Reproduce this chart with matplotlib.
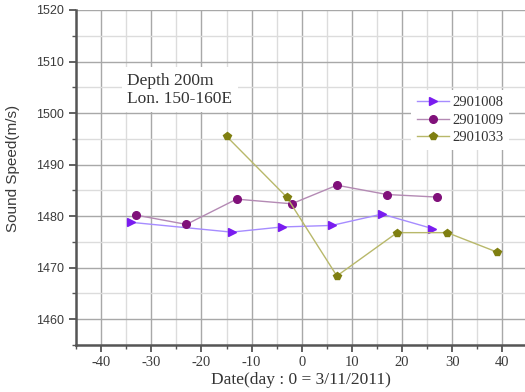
import matplotlib
matplotlib.use("Agg")
import matplotlib.pyplot as plt
from matplotlib.ticker import MultipleLocator

plt.rcParams["axes.unicode_minus"] = False

days_2901008 = [-34, -14, -4, 6, 16, 26]
speed_2901008 = [1478.8, 1476.9, 1477.9, 1478.2, 1480.4, 1477.6]

days_2901009 = [-33, -23, -13, -2, 7, 17, 27]
speed_2901009 = [1480.2, 1478.4, 1483.3, 1482.4, 1486.0, 1484.2, 1483.7]

days_2901033 = [-15, -3, 7, 19, 29, 39]
speed_2901033 = [1495.5, 1483.7, 1468.4, 1476.8, 1476.8, 1473.0]

serif = ["Liberation Serif", "DejaVu Serif"]
sans = ["Liberation Sans", "DejaVu Sans"]

fig = plt.figure(figsize=(5.25, 3.92), dpi=100)
ax = fig.add_axes([76/525, 1-345/392, 1-76/525, (345-10)/392])

ax.plot(days_2901008, speed_2901008, color="#a68cff", lw=1.0, marker=">",
        ms=6, mfc="#7a1cf0", mec="#7a1cf0", label="2901008", zorder=3)
ax.plot(days_2901009, speed_2901009, color="#b48ab4", lw=1.0, marker="o",
        ms=5.5, mfc="#80107a", mec="#80107a", label="2901009", zorder=3)
ax.plot(days_2901033, speed_2901033, color="#b8b86a", lw=1.0, marker="p",
        ms=6, mfc="#7f7f10", mec="#7f7f10", label="2901033", zorder=3)

ax.set_xlim(-45, 44.5)
ax.set_ylim(1455, 1520)
ax.xaxis.set_major_locator(MultipleLocator(10))
ax.xaxis.set_minor_locator(MultipleLocator(5))
ax.yaxis.set_major_locator(MultipleLocator(10))
ax.yaxis.set_minor_locator(MultipleLocator(5))

ax.grid(which="major", color="#a8a8a8", lw=1.0, zorder=0)
ax.grid(which="minor", color="#dcdcdc", lw=1.0, zorder=0)
ax.set_axisbelow(True)

for s in ["top", "right"]:
    ax.spines[s].set_visible(False)
for s in ["left", "bottom"]:
    ax.spines[s].set_color("#555555")
    ax.spines[s].set_linewidth(1.8)

ax.tick_params(which="major", direction="out", length=5, width=1.3, color="#555555",
               labelcolor="#3a3a3a")
ax.tick_params(which="minor", direction="out", length=3, width=1.0, color="#555555")
ax.tick_params(axis="x", which="major", pad=3)
for lab in ax.get_yticklabels():
    lab.set_family(sans)
    lab.set_fontsize(9)
for lab in ax.get_xticklabels():
    lab.set_family(serif)
    lab.set_fontsize(10.5)

ax.set_xlabel("Date(day : 0 = 3/11/2011)", family=serif, fontsize=12.5, color="#333333", labelpad=2)
ax.set_ylabel("Sound Speed(m/s)", family=sans, fontsize=11, color="#3a3a3a", labelpad=6)
ax.yaxis.set_label_coords(-(76-20)/449, (345-168)/335)

ax.text(-34.8, 1504.5, "Depth 200m\nLon. 150-160E", family=serif, fontsize=12.5,
        color="#333333", va="center", ha="left", linespacing=1.15,
        bbox=dict(facecolor="white", edgecolor="none", pad=4), zorder=4)

leg = ax.legend(loc="upper left", bbox_to_anchor=((404-76)/449, (345-83)/335),
                prop={"family": serif, "size": 10.5}, frameon=True, fancybox=False,
                edgecolor="none", facecolor="white", framealpha=1, handlelength=2.2,
                labelspacing=0.28, borderpad=0.4, handletextpad=0.2)
for t in leg.get_texts():
    t.set_color("#333333")

fig.savefig("out.png", dpi=100)
